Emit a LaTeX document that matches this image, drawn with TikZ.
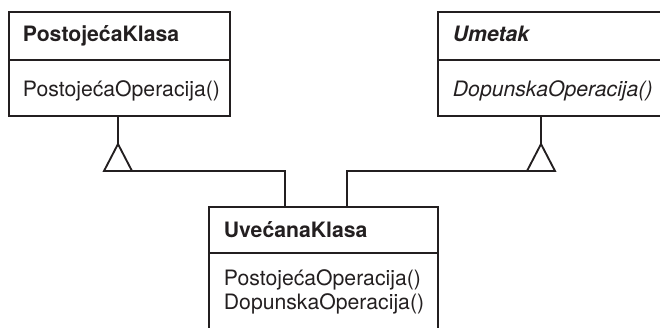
\documentclass[tikz,border=0pt]{standalone}
\usepackage{fontspec}
\setmainfont{TeX Gyre Heros}
\usetikzlibrary{positioning}
\definecolor{crta}{HTML}{231F20}

\begin{document}
\begin{tikzpicture}[x=0.75pt,y=-0.75pt,line width=1.4pt,draw=crta,text=crta,
      klasa/.style={draw=crta,rectangle,inner sep=0pt,anchor=north west},
      ime/.style={anchor=base west,inner sep=0pt,font=\fontsize{15.9}{18.4}\selectfont\bfseries},
      ops/.style={anchor=base west,inner sep=0pt,font=\fontsize{15.9}{18.4}\selectfont}]

      \useasboundingbox (0,0) rectangle (660,328);
      \clip (0,0) rectangle (660,328);

      % klase
      \node[klasa,minimum width=221*0.75pt,minimum height=104*0.75pt] (postojeca) at (8,11) {};
      \node[klasa,minimum width=240*0.75pt,minimum height=104*0.75pt] (umetak) at (437,11) {};
      \node[klasa,minimum width=229*0.75pt,minimum height=135*0.75pt] (uvecana) at (208,206) {};

      \draw (postojeca.west |- 0,60) -- (postojeca.east |- 0,60);
      \draw (umetak.west |- 0,60) -- (umetak.east |- 0,60);
      \draw (uvecana.west |- 0,253) -- (uvecana.east |- 0,253);

      \node[ime] (postojecaIme) at (22,42) {PostojećaKlasa};
      \node[ops] (postojecaOp) at (22,97) {PostojećaOperacija()};
      \node[ime,font=\fontsize{15.9}{18.4}\selectfont\bfseries\itshape] (umetakIme) at (452,42) {Umetak};
      \node[ops,font=\fontsize{15.9}{18.4}\selectfont\itshape] (umetakOp) at (452,97) {DopunskaOperacija()};
      \node[ime] (uvecanaIme) at (223,237) {UvećanaKlasa};
      \node[ops] (uvecanaOp1) at (223,285) {PostojećaOperacija()};
      \node[ops] (uvecanaOp2) at (223,309.5) {DopunskaOperacija()};

      % nasljedjivanje
      \coordinate (vrhP) at (118,144);
      \coordinate (vrhU) at (541,144);
      \coordinate (ulazP) at ([xshift=77*0.75pt]uvecana.north west);
      \coordinate (ulazU) at ([xshift=139*0.75pt]uvecana.north west);

      \draw (vrhP |- postojeca.south) -- (vrhP);
      \draw (vrhP) -- ++(-14,27) coordinate (lijevoP) -- ++(28,0) coordinate (desnoP) -- cycle;
      \draw (vrhU |- umetak.south) -- (vrhU);
      \draw (vrhU) -- ++(-14,27) coordinate (lijevoU) -- ++(28,0) coordinate (desnoU) -- cycle;

      \draw (desnoP) -| (ulazP);
      \draw (ulazU) |- (lijevoU);
\end{tikzpicture}
\end{document}
